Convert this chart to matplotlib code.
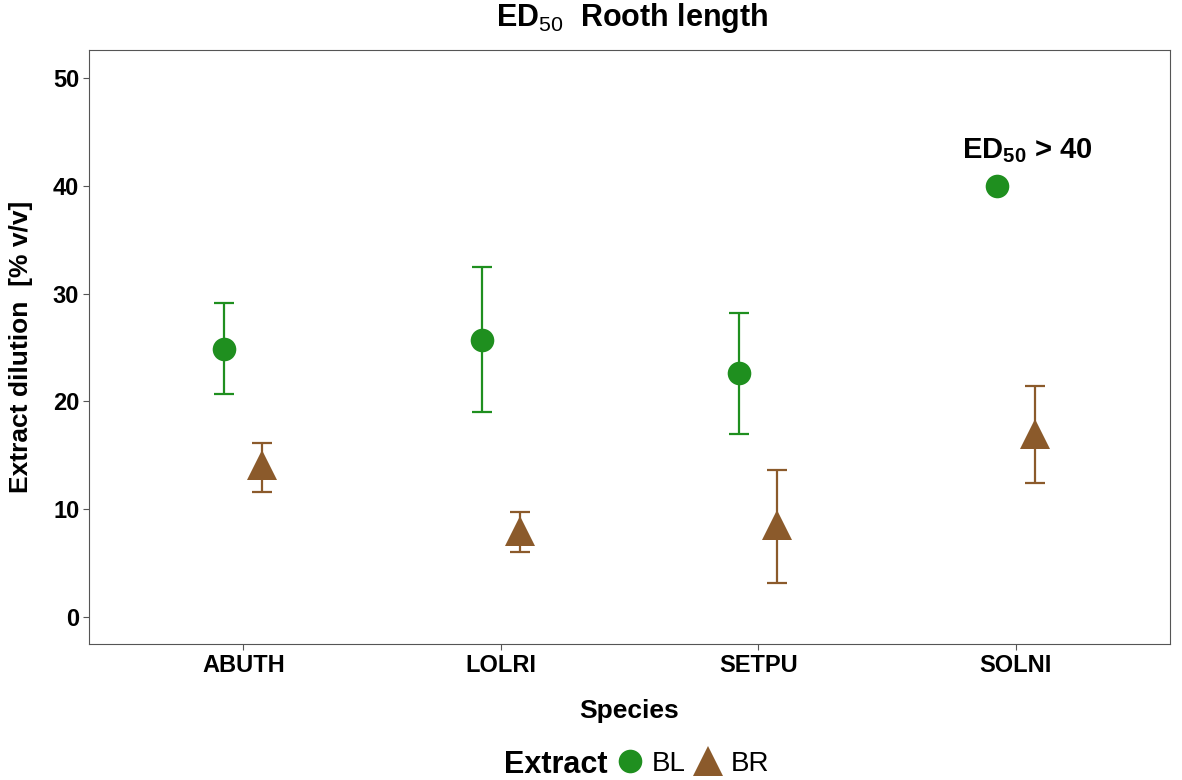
import numpy as np
import matplotlib
matplotlib.use("Agg")
import matplotlib.pyplot as plt
from matplotlib.lines import Line2D

plt.rcParams['font.family'] = ['Liberation Sans', 'DejaVu Sans']
plt.rcParams['mathtext.fontset'] = 'custom'
plt.rcParams['mathtext.rm'] = 'Liberation Sans'
plt.rcParams['mathtext.bf'] = 'Liberation Sans:bold'

species = ["ABUTH", "LOLRI", "SETPU", "SOLNI"]

# BL extract (green circles)
bl_mean = [24.9, 25.7, 22.6, 40.0]
bl_low = [20.7, 19.0, 17.0, np.nan]
bl_high = [29.1, 32.5, 28.2, np.nan]

# BR extract (brown triangles)
br_mean = [14.1, 8.0, 8.5, 17.0]
br_low = [11.6, 6.0, 3.2, 12.4]
br_high = [16.1, 9.7, 13.6, 21.4]

green = "#1f8f1f"
brown = "#8b5a2b"
dodge = 0.074

fig = plt.figure(figsize=(11.82, 7.80), dpi=100)
ax = fig.add_axes([89/1182, 1 - 644/780, 1081/1182, 594/780])

x = np.arange(1, len(species) + 1)


def draw(xs, mean, low, high, color, marker, ms):
    mean = np.array(mean)
    low = np.array(low)
    high = np.array(high)
    ok = ~np.isnan(low)
    ax.errorbar(xs[ok], mean[ok], yerr=[mean[ok] - low[ok], high[ok] - mean[ok]],
                fmt="none", ecolor=color, elinewidth=1.6, capsize=7, capthick=1.6,
                zorder=2)
    ax.plot(xs, mean, linestyle="none", marker=marker, ms=ms, color=color,
            markeredgewidth=0, zorder=3)


draw(x - dodge, bl_mean, bl_low, bl_high, green, "o", 17)
draw(x + dodge, br_mean, br_low, br_high, brown, "^", 21)

ax.text(4.045, 43.3, r"ED$_{\mathbf{50}}$ > 40", fontsize=21, fontweight="bold",
        ha="center", va="center")

ax.set_xlim(0.4, 4.6)
ax.set_ylim(-2.5, 52.6)
ax.set_xticks(x)
ax.set_xticklabels(species, fontsize=17, fontweight="bold")
ax.set_yticks(np.arange(0, 51, 10))
ax.set_yticklabels([str(v) for v in range(0, 51, 10)], fontsize=17, fontweight="bold")
ax.tick_params(length=4, color="#555555", width=0.8, pad=3)
for s in ax.spines.values():
    s.set_color("#555555")
    s.set_linewidth(0.8)

ax.set_xlabel("Species", fontsize=19, fontweight="bold")
ax.set_ylabel("Extract dilution  [% v/v]", fontsize=19, fontweight="bold")
ax.yaxis.set_label_coords(-0.052, 0.5)
ax.xaxis.set_label_coords(0.5, -0.092)

fig.text(632/1182, 1 - 18/780, r"ED$_{\mathrm{50}}$  Rooth length", fontsize=22,
         fontweight="bold", ha="center", va="center")

# legend at bottom
fig.text(608/1182, 1 - 765/780, "Extract", fontsize=22, fontweight="bold",
         ha="right", va="center")
handles = [Line2D([], [], linestyle="none", marker="o", ms=17, color=green, markeredgewidth=0),
           Line2D([], [], linestyle="none", marker="^", ms=21, color=brown, markeredgewidth=0)]
fig.legend(handles, ["BL", "BR"], loc="center left", bbox_to_anchor=(616/1182, 1 - 764/780),
           ncol=2, frameon=False, fontsize=20, handlelength=1.0, handletextpad=0.3,
           columnspacing=0.3, borderpad=0, borderaxespad=0)

fig.savefig("out.png", dpi=100)
